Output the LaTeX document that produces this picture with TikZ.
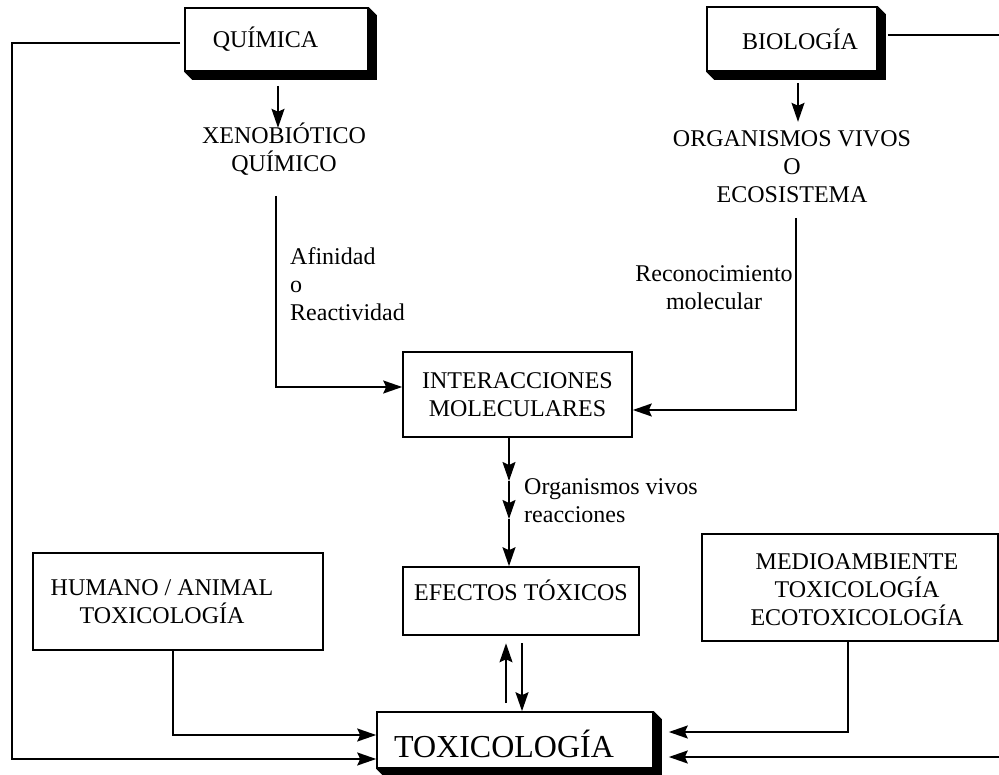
\documentclass[tikz,border=0pt]{standalone}
\usepackage{fontspec}
\setmainfont{Liberation Serif}
\usetikzlibrary{arrows.meta}
\begin{document}
\begin{tikzpicture}[x=1pt,y=-1pt,
  every node/.style={font=\fontsize{24}{28}\selectfont, inner sep=0pt},
  box/.style={draw, line width=1.6pt, fill=white, inner sep=0pt},
  conn/.style={line width=1.6pt},
  arr/.style={line width=1.7pt, -{Stealth[length=19pt,width=13pt,inset=3pt]}},
  shadowfill/.style={fill=black}
]
\useasboundingbox (0,0) rectangle (999,775);

% boxes
\node[box, minimum width=183pt, minimum height=63pt] (qui) at (276.5,39.5) {QUÍMICA\kern22pt};
\fill[shadowfill] (qui.north east) -- ++(8,8) -- ([shift={(8,8)}]qui.south east) -- ([shift={(8,8)}]qui.south west) -- (qui.south west) -- (qui.south east) -- cycle;

\node[box, minimum width=170pt, minimum height=64pt] (bio) at (792,39) {\kern16pt BIOLOGÍA};
\fill[shadowfill] (bio.north east) -- ++(8,8) -- ([shift={(8,8)}]bio.south east) -- ([shift={(8,8)}]bio.south west) -- (bio.south west) -- (bio.south east) -- cycle;

\node[align=center] (xeno) at (284,149) {XENOBIÓTICO\\QUÍMICO};
\node[align=center] (org) at (792,167) {ORGANISMOS VIVOS\\O\\ECOSISTEMA};
\node[align=left, anchor=west] (afi) at (290,284) {Afinidad\\o\\Reactividad};
\node[align=center] (rec) at (714,288) {Reconocimiento\\molecular};

\node[box, align=center, minimum width=229pt, minimum height=85pt] (inter) at (517.5,394.5) {INTERACCIONES\\MOLECULARES};
\node[align=left, anchor=west] (orgv) at (524,501) {Organismos vivos\\reacciones};

\node[box, minimum width=236pt, minimum height=68pt, text height=17pt, text depth=19pt] (efe) at (521,601) {EFECTOS TÓXICOS};

\node[box, minimum width=290pt, minimum height=97pt] (hum) at (178,601.5) {};
\node[align=center] (humt) at (162,602) {HUMANO / ANIMAL\\TOXICOLOGÍA};

\node[box, minimum width=296pt, minimum height=107pt] (med) at (850,587.5) {};
\node[align=center] (medt) at (857,590) {MEDIOAMBIENTE\\TOXICOLOGÍA\\ECOTOXICOLOGÍA};

\node[box, minimum width=276pt, minimum height=56pt, text height=35pt, text depth=0pt, font=\fontsize{32}{36}\selectfont] (toxi) at (515,740) {TOXICOLOGÍA\kern22pt};
\fill[shadowfill] (toxi.north east) -- ++(8,8) -- ([shift={(8,8)}]toxi.south east) -- ([shift={(8,8)}]toxi.south west) -- (toxi.south west) -- (toxi.south east) -- cycle;

% coordinates for free ends
\coordinate (lc) at (12,759);
\coordinate (rc) at (1002,757);
\coordinate (xs) at (276,196);
\coordinate (bs) at (796,218);
\coordinate (m1) at (509,481);
\coordinate (m2) at (509,519);

% connectors
\draw[arr] ([xshift=-4pt,yshift=-3.5pt]qui.west) -| (lc) -- (toxi.west |- lc);
\draw[arr] ([xshift=-5pt]hum.south) |- ([yshift=5pt]toxi.west);
\draw[arr, shorten <=14pt] ([xshift=1.5pt]qui.south) -- ++(0,56);
\draw[arr, shorten <=11pt] ([xshift=6pt]bio.south) -- ++(0,50);
\draw[arr] (xs) |- ([yshift=7.5pt]inter.west);
\draw[arr] (bs) |- ([yshift=-15.5pt]inter.east);
\draw[arr] ([xshift=-8.5pt]inter.south) -- (m1);
\draw[arr] (m1) -- (m2);
\draw[arr] (m2) -- ([xshift=-12pt]efe.north);
\draw[arr] ([xshift=-9pt,yshift=8pt]toxi.north) -- ([xshift=-15pt,yshift=-7.5pt]efe.south);
\draw[arr] ([xshift=1pt,yshift=-7.5pt]efe.south) -- ([xshift=7pt]toxi.north);
\draw[arr, shorten >=15pt] ([xshift=-2pt]med.south) |- ([yshift=8pt]toxi.east);
\draw[arr, shorten >=15pt] ([xshift=10pt,yshift=4pt]bio.east) -| (rc) -- (toxi.east |- rc);
\end{tikzpicture}
\end{document}
